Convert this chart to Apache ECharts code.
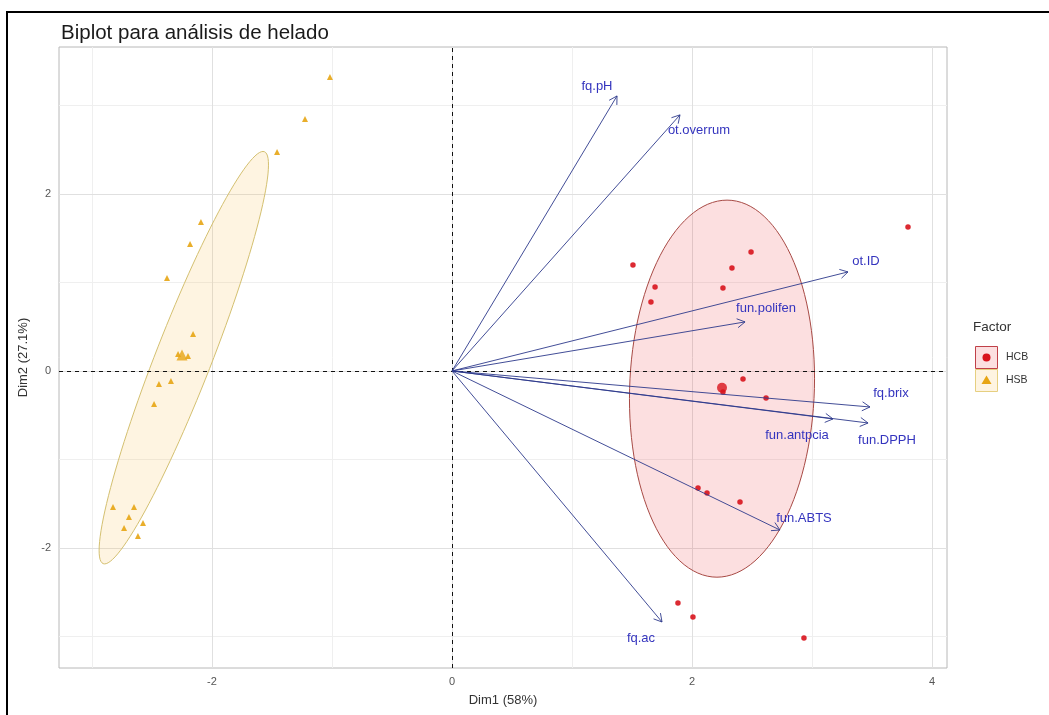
<!DOCTYPE html>
<html>
<head>
<meta charset="utf-8">
<title>Biplot para análisis de helado</title>
<script src="https://cdn.jsdelivr.net/npm/echarts@6/dist/echarts.min.js"></script>
<style>
  html, body { margin: 0; padding: 0; background: #ffffff; }
  #chart { width: 1049px; height: 715px; }
</style>
</head>
<body>
<div id="chart"></div>
<script>
// Individuals (PCA scores) per group
const hcbX = [1.508, 1.692, 1.658, 2.492, 2.333, 2.258, 3.800, 2.425, 2.258, 2.617, 2.050, 2.125, 2.400, 1.883, 2.008, 2.933];
const hcbY = [1.198, 0.949, 0.780, 1.345, 1.164, 0.938, 1.627, -0.090, -0.237, -0.305, -1.322, -1.379, -1.480, -2.621, -2.780, -3.017];
const hsbX = [-1.017, -1.225, -1.458, -2.092, -2.183, -2.375, -2.158, -2.283, -2.200, -2.442, -2.342, -2.483, -2.825, -2.650, -2.692, -2.575, -2.733, -2.617];
const hsbY = [3.322, 2.847, 2.475, 1.684, 1.435, 1.051, 0.418, 0.192, 0.169, -0.147, -0.113, -0.373, -1.537, -1.537, -1.650, -1.718, -1.774, -1.864];

// Group centroids
const hcbCentroid = [2.25, -0.19];
const hsbCentroid = [-2.25, 0.18];

// Concentration ellipses: centre, conjugate semi-axis a, conjugate semi-axis b
const hcbEllipse = [2.25, -0.20, 0.042, 2.13, 0.77, 0];
const hsbEllipse = [-2.235, 0.15, 0.66, 2.33, 0.25, 0];

// Variables (loadings) and their repelled label positions
const varNames = ['fq.pH', 'ot.overrum', 'ot.ID', 'fun.polifen', 'fq.brix', 'fun.antpcia', 'fun.DPPH', 'fun.ABTS', 'fq.ac'];
const varX = [1.375, 1.900, 3.300, 2.442, 3.483, 3.175, 3.467, 2.733, 1.750];
const varY = [3.107, 2.893, 1.119, 0.554, -0.407, -0.542, -0.588, -1.797, -2.836];
const labelX = [1.208, 2.058, 3.450, 2.617, 3.658, 2.875, 3.625, 2.933, 1.575];
const labelY = [3.220, 2.712, 1.243, 0.701, -0.249, -0.734, -0.780, -1.661, -3.017];

// Axis ticks and grid
const xTicks = [-2, 0, 2, 4];
const yTicks = [-2, 0, 2];
const xMinor = [-3, -1, 1, 3];
const yMinor = [-3, -1, 1, 3];
const xRange = [-3.275, 4.125];
const yRange = [-3.356, 3.66];

const FONT = '"Liberation Sans", Arial, sans-serif';
const RED = '#D8131C';
const GOLD = '#E7A514';
const ARROW = '#2D3A8C';
const VARTXT = '#3434BE';

const zip = (xs, ys) => xs.map((x, i) => [x, ys[i]]);

// Ellipse outline traced through the cartesian scales
function ellipseItem(params, api) {
  const cx = api.value(0), cy = api.value(1);
  const ax = api.value(2), ay = api.value(3);
  const bx = api.value(4), by = api.value(5);
  const pts = [];
  for (let k = 0; k <= 120; k++) {
    const t = (k / 120) * Math.PI * 2;
    pts.push(api.coord([cx + ax * Math.cos(t) + bx * Math.sin(t),
                        cy + ay * Math.cos(t) + by * Math.sin(t)]));
  }
  return {
    type: 'polygon',
    shape: { points: pts },
    style: api.style()
  };
}

// Loading vector from the origin with an open arrow head
function arrowItem(params, api) {
  const o = api.coord([0, 0]);
  const t = api.coord([api.value(0), api.value(1)]);
  const ang = Math.atan2(t[1] - o[1], t[0] - o[0]);
  const L = 9, A = Math.PI / 6;
  const h1 = [t[0] - L * Math.cos(ang - A), t[1] - L * Math.sin(ang - A)];
  const h2 = [t[0] - L * Math.cos(ang + A), t[1] - L * Math.sin(ang + A)];
  const ls = { stroke: ARROW, lineWidth: 1, fill: null, opacity: 0.9 };
  return {
    type: 'group',
    children: [
      { type: 'line', shape: { x1: o[0], y1: o[1], x2: t[0], y2: t[1] }, style: ls },
      { type: 'polyline', shape: { points: [h1, t, h2] }, style: ls }
    ]
  };
}

function labelItem(params, api) {
  const p = api.coord([api.value(0), api.value(1)]);
  return {
    type: 'text',
    x: p[0], y: p[1],
    style: {
      text: varNames[params.dataIndex],
      fill: VARTXT,
      font: '13px ' + FONT,
      align: 'center',
      verticalAlign: 'middle'
    }
  };
}

const gridLine = (color, dashed, z) => ({
  z: z,
  symbol: ['none', 'none'],
  silent: true,
  label: { show: false },
  emphasis: { disabled: true },
  animation: false,
  lineStyle: { color: color, width: 1, type: dashed ? [4, 4] : 'solid' }
});

const chart = echarts.init(document.getElementById('chart'), null, { renderer: 'canvas' });

chart.setOption({
  animation: false,
  backgroundColor: '#ffffff',
  title: {
    text: 'Biplot para análisis de helado',
    left: 56, top: 18,
    textStyle: { fontFamily: FONT, fontSize: 20.5, fontWeight: 'normal', color: '#1a1a1a' }
  },
  grid: {
    left: 59, right: 102, top: 47, bottom: 47,
    show: true, borderColor: '#B8B8B8', borderWidth: 1, backgroundColor: 'transparent'
  },
  xAxis: {
    type: 'value', min: xRange[0], max: xRange[1],
    axisLine: { show: false },
    splitLine: { show: false },
    axisTick: { show: true, customValues: xTicks, length: 3, lineStyle: { color: '#B3B3B3' } },
    axisLabel: { customValues: xTicks, color: '#555555', fontSize: 11, fontFamily: FONT, margin: 8 },
    name: 'Dim1 (58%)', nameLocation: 'middle', nameGap: 26,
    nameTextStyle: { color: '#333333', fontSize: 13, fontFamily: FONT }
  },
  yAxis: {
    type: 'value', min: yRange[0], max: yRange[1],
    axisLine: { show: false },
    splitLine: { show: false },
    axisTick: { show: true, customValues: yTicks, length: 3, lineStyle: { color: '#B3B3B3' } },
    axisLabel: { customValues: yTicks, color: '#555555', fontSize: 11, fontFamily: FONT, margin: 8 },
    name: 'Dim2 (27.1%)', nameLocation: 'middle', nameGap: 26, nameRotate: 90,
    nameTextStyle: { color: '#333333', fontSize: 13, fontFamily: FONT }
  },
  series: [
    {
      // panel grid lines
      type: 'scatter', data: [], z: 0, silent: true,
      markLine: Object.assign(gridLine('#EFEFEF', false, 0), {
        data: xMinor.map(v => ({ xAxis: v })).concat(yMinor.map(v => ({ yAxis: v })))
      })
    },
    {
      type: 'scatter', data: [], z: 0, silent: true,
      markLine: Object.assign(gridLine('#E0E0E0', false, 0.5), {
        data: xTicks.map(v => ({ xAxis: v })).concat(yTicks.map(v => ({ yAxis: v })))
      })
    },
    {
      type: 'custom', name: 'HCB ellipse', renderItem: ellipseItem, silent: true, z: 1,
      data: [hcbEllipse],
      itemStyle: { color: 'rgba(232,40,50,0.15)', borderColor: '#A84A45', borderWidth: 1 }
    },
    {
      type: 'custom', name: 'HSB ellipse', renderItem: ellipseItem, silent: true, z: 1,
      data: [hsbEllipse],
      itemStyle: { color: 'rgba(250,190,80,0.17)', borderColor: '#D4C070', borderWidth: 1 }
    },
    {
      // reference lines through the origin
      type: 'scatter', data: [], z: 2, silent: true,
      markLine: Object.assign(gridLine('#111111', true, 2), {
        data: [{ xAxis: 0 }, { yAxis: 0 }]
      })
    },
    {
      type: 'scatter', name: 'HCB', symbol: 'circle', symbolSize: 5.5, z: 3,
      data: zip(hcbX, hcbY), itemStyle: { color: RED, opacity: 0.9 }
    },
    {
      type: 'scatter', name: 'HSB', symbol: 'triangle', symbolSize: 6, z: 3,
      data: zip(hsbX, hsbY), itemStyle: { color: GOLD, opacity: 0.9 }
    },
    {
      type: 'scatter', name: 'HCB centroid', symbol: 'circle', symbolSize: 10, z: 4,
      data: [hcbCentroid], itemStyle: { color: RED }
    },
    {
      type: 'scatter', name: 'HSB centroid', symbol: 'triangle', symbolSize: 11, z: 4,
      data: [hsbCentroid], itemStyle: { color: GOLD }
    },
    {
      type: 'custom', name: 'variables', renderItem: arrowItem, silent: true, z: 5,
      data: zip(varX, varY)
    },
    {
      type: 'custom', name: 'variable labels', renderItem: labelItem, silent: true, z: 6,
      data: zip(labelX, labelY)
    }
  ],
  graphic: [
    // outer frame
    { type: 'line', shape: { x1: 6, y1: 12, x2: 1049, y2: 12 }, style: { stroke: '#000', lineWidth: 2 } },
    { type: 'line', shape: { x1: 7, y1: 11, x2: 7, y2: 715 }, style: { stroke: '#000', lineWidth: 2 } },
    // legend
    { type: 'text', left: 973, top: 320, style: { text: 'Factor', font: '13.5px ' + FONT, fill: '#333' } },
    { type: 'rect', shape: { x: 975.5, y: 346.5, width: 22, height: 22 },
      style: { fill: 'rgba(232,40,50,0.15)', stroke: '#C04048', lineWidth: 1 } },
    { type: 'circle', shape: { cx: 986.5, cy: 357.5, r: 4 }, style: { fill: RED } },
    { type: 'rect', shape: { x: 975.5, y: 369.5, width: 22, height: 22 },
      style: { fill: 'rgba(250,190,80,0.17)', stroke: '#E6CF80', lineWidth: 1 } },
    { type: 'polygon', shape: { points: [[986.5, 375.5], [991.5, 384], [981.5, 384]] }, style: { fill: GOLD } },
    { type: 'text', left: 1006, top: 352, style: { text: 'HCB', font: '10.5px ' + FONT, fill: '#333' } },
    { type: 'text', left: 1006, top: 375, style: { text: 'HSB', font: '10.5px ' + FONT, fill: '#333' } }
  ]
});
</script>
</body>
</html>
